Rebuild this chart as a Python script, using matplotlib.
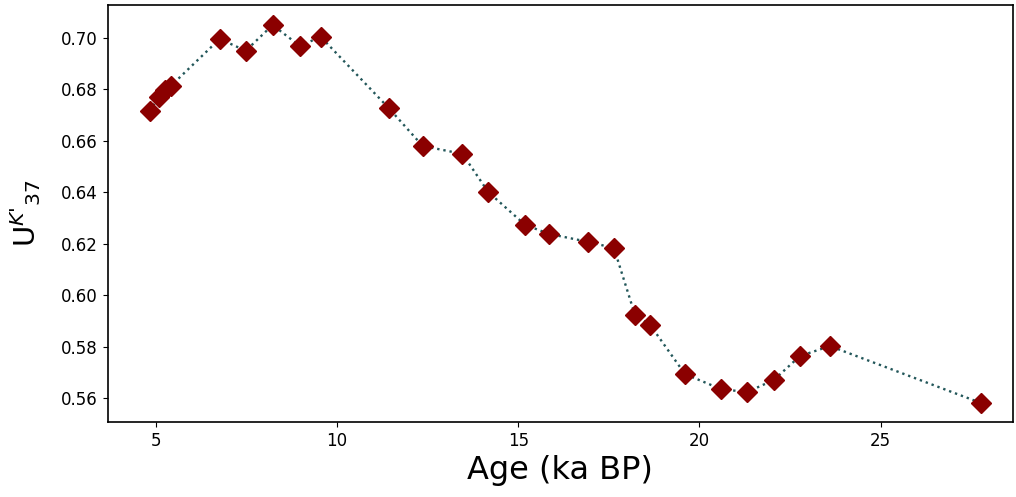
import matplotlib.pyplot as plt

age = [4.83, 5.08, 5.25, 5.41, 6.76, 7.48, 8.22, 8.97, 9.55, 11.42, 12.36, 13.46, 14.17,
       15.19, 15.85, 16.93, 17.64, 18.22, 18.64, 19.60, 20.59, 21.31, 22.05, 22.77, 23.60, 27.78]
uk37 = [0.6716, 0.6770, 0.6798, 0.6813, 0.6996, 0.6950, 0.7050, 0.6969, 0.7004, 0.6728,
        0.6580, 0.6549, 0.6401, 0.6273, 0.6238, 0.6207, 0.6183, 0.5923, 0.5884, 0.5693,
        0.5635, 0.5623, 0.5670, 0.5763, 0.5802, 0.5580]

fig, ax = plt.subplots(figsize=(10.16, 4.97), dpi=100)
fig.subplots_adjust(left=0.106, right=0.997, top=0.990, bottom=0.151)

ax.plot(age, uk37, linestyle=":", color="#23575a", linewidth=1.7, zorder=1)
ax.plot(age, uk37, linestyle="none", marker="D", markersize=10, color="darkred", zorder=2)

ax.set_xlim(3.67, 28.65)
ax.set_ylim(0.5507, 0.7128)
ax.set_xticks([5, 10, 15, 20, 25])
ax.set_yticks([0.56, 0.58, 0.60, 0.62, 0.64, 0.66, 0.68, 0.70])
ax.tick_params(labelsize=12)
ax.set_xlabel("Age (ka BP)", fontsize=23)
ax.set_ylabel(r"U$^{K\text{'}}$$_{37}$", fontsize=21)
ax.yaxis.set_label_coords(-0.072, 0.5)
for s in ax.spines.values():
    s.set_linewidth(1.2)

fig.savefig("out.png", dpi=100)
